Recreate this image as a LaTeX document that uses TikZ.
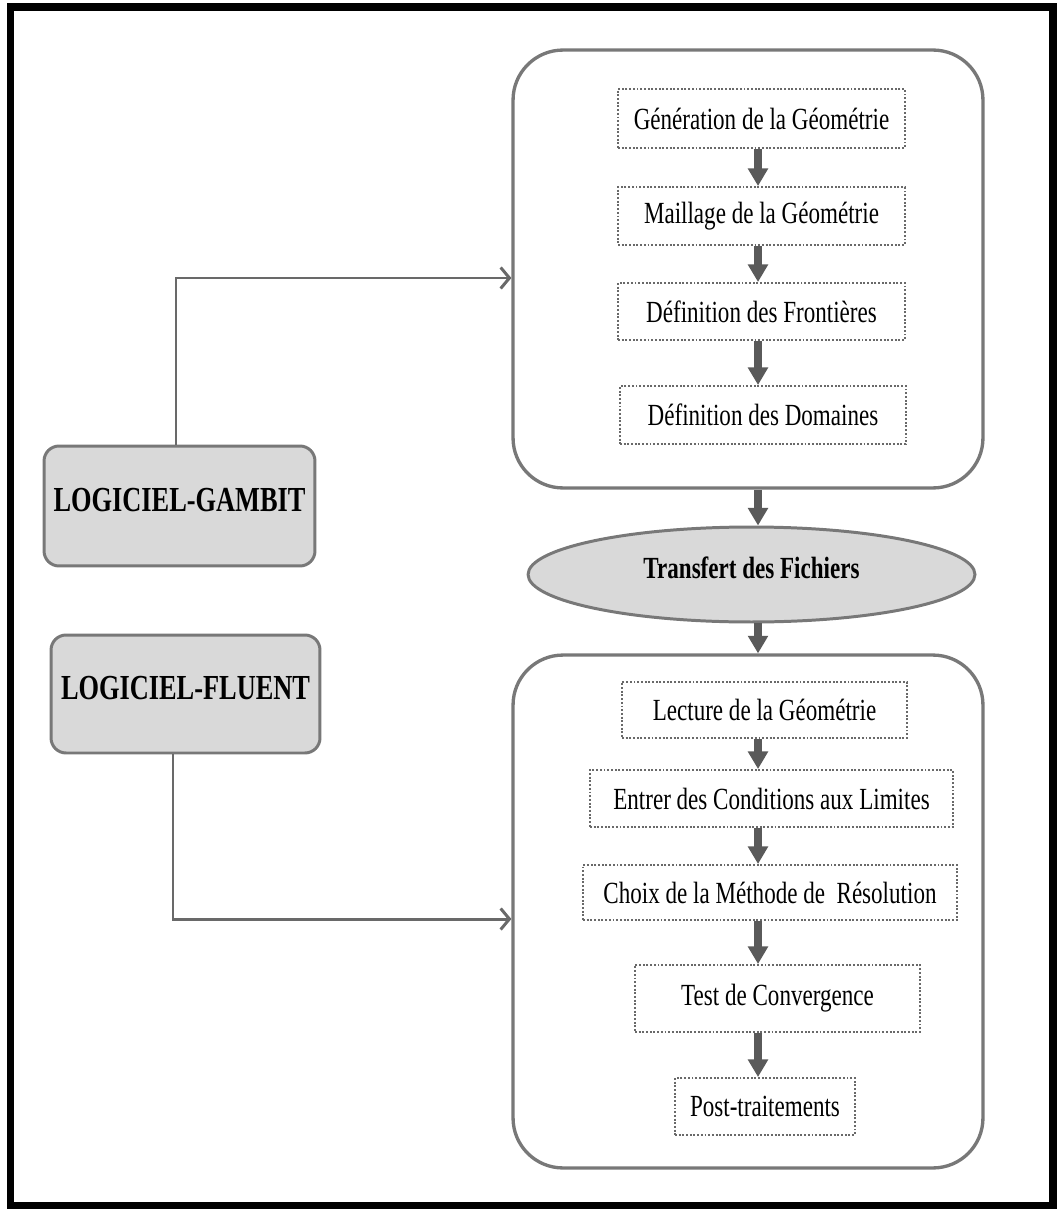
\documentclass[tikz,border=0pt]{standalone}
\usepackage{fontspec}
\setmainfont{Liberation Serif}[FakeStretch=0.75]
\usetikzlibrary{shapes.geometric,arrows.meta}
\definecolor{cadregris}{RGB}{120,120,120}
\definecolor{flechegris}{RGB}{90,90,90}
\definecolor{liengris}{RGB}{105,105,105}
\definecolor{pointgris}{RGB}{105,105,105}
\definecolor{fondgris}{RGB}{217,217,217}
\tikzset{
  cadre/.style={draw=cadregris, line width=1.9pt, rounded corners=1cm, minimum width=9.4cm},
  etape/.style={draw=pointgris, densely dotted, line width=1.1pt, inner sep=0pt,
    font=\fontsize{17.5}{20}\selectfont},
  logiciel/.style={draw=cadregris, fill=fondgris, line width=1.7pt, rounded corners=0.3cm,
    text depth=7pt, font=\bfseries\fontsize{20}{24}\selectfont},
  fleche/.style={draw=flechegris, line width=4.5pt, -{Triangle[length=10pt,width=11pt]}},
  lien/.style={draw=liengris, line width=1.7pt, -{Straight Barb[length=5pt,width=12pt]}}
}
\begin{document}
\begin{tikzpicture}[x=0.02cm,y=-0.02cm]
  \useasboundingbox (0,0) rectangle (1059,1209);
  \draw[line width=4.2pt] (10.5,7) rectangle (1053,1205.5);

  % les deux cadres
  \node[cadre, minimum height=8.76cm] (cadre1) at (748,269) {};
  \node[cadre, minimum height=10.26cm] (cadre2) at (748,911.5) {};
  \coordinate (axe) at (758,0);

  % GAMBIT
  \node[etape, minimum width=5.74cm, minimum height=1.18cm] (geo) at (761.5,118.5) {Génération de la Géométrie};
  \node[etape, minimum width=5.74cm, minimum height=1.16cm] (mail) at (761.5,216) {Maillage de la Géométrie};
  \node[etape, minimum width=5.74cm, minimum height=1.14cm] (front) at (761.5,311.5) {Définition des Frontières};
  \node[etape, minimum width=5.72cm, minimum height=1.16cm] (dom) at (763,415) {Définition des Domaines};

  \node[ellipse, draw=cadregris, fill=fondgris, line width=1.7pt, inner sep=0pt,
        minimum width=8.94cm, minimum height=1.9cm, text depth=8pt,
        font=\bfseries\fontsize{17.5}{20}\selectfont] (transfert) at (751.5,574.5) {Transfert des Fichiers};

  % FLUENT
  \node[etape, minimum width=5.7cm, minimum height=1.12cm] (lect) at (764.5,710) {Lecture de la Géométrie};
  \node[etape, minimum width=7.26cm, minimum height=1.14cm] (cond) at (771.5,798.5) {Entrer des Conditions aux Limites};
  \node[etape, minimum width=7.48cm, minimum height=1.1cm] (meth) at (770,892.5) {Choix de la Méthode de\ \ Résolution};
  \node[etape, minimum width=5.7cm, minimum height=1.34cm] (conv) at (777.5,998.5) {Test de Convergence};
  \node[etape, minimum width=3.6cm, minimum height=1.14cm] (post) at (765,1106.5) {Post-traitements};

  \node[logiciel, minimum width=5.42cm, minimum height=2.4cm] (gambit) at (179.5,506) {LOGICIEL-GAMBIT};
  \node[logiciel, minimum width=5.38cm, minimum height=2.36cm] (fluent) at (185.5,694) {LOGICIEL-FLUENT};

  \foreach \a/\b in {geo/mail,mail/front,front/dom,cadre1/transfert,transfert/cadre2,
                     lect/cond,cond/meth,meth/conv,conv/post}
    \draw[fleche] (\a.south -| axe) -- (\b.north -| axe);

  \draw[lien] ([xshift=-0.07cm]gambit.north) |- ([yshift=-0.18cm]cadre1.west);
  \draw[lien] ([xshift=-0.25cm]fluent.south) |- ([yshift=-0.15cm]cadre2.west);
\end{tikzpicture}
\end{document}
